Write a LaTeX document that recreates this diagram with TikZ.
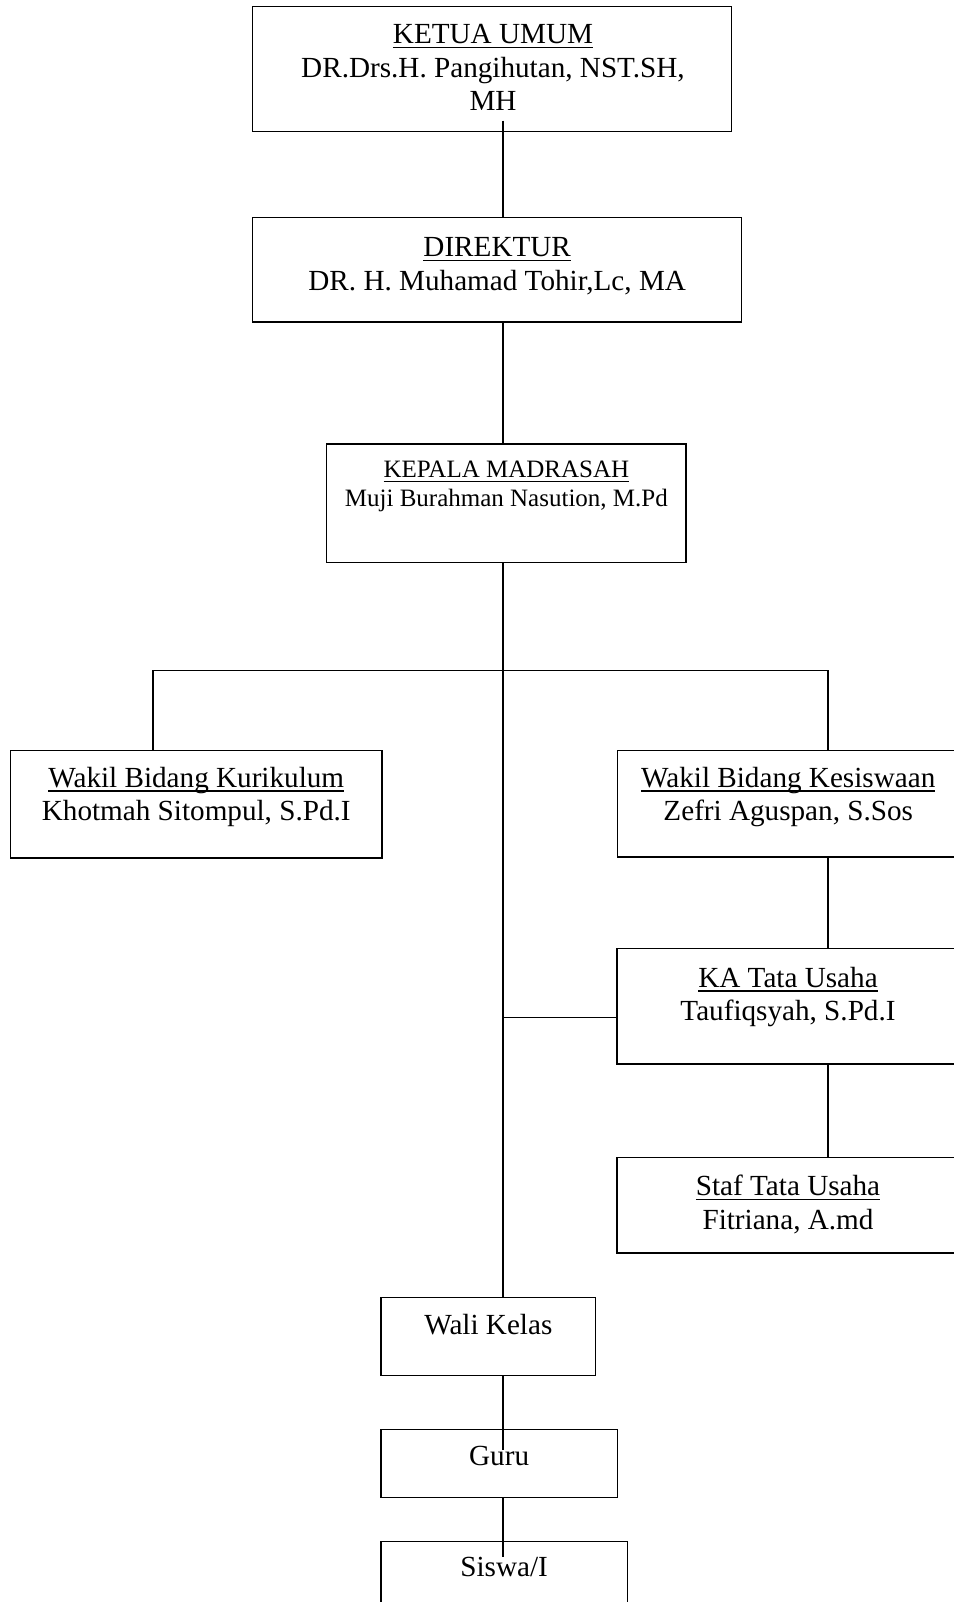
\documentclass[tikz,border=0pt]{standalone}
\usepackage{fontspec}
\setmainfont{Liberation Serif}
\newlength\ulwidth
\newcommand\myul[1]{\settowidth\ulwidth{#1}\rlap{\rule[-4.2pt]{\ulwidth}{1.3pt}}#1}
\newcommand\bigtxt{\fontsize{29.17}{33.5}\selectfont}
\newcommand\smalltxt{\fontsize{25}{28.6}\selectfont}
\tikzset{
  box/.style={draw, line width=1.4pt, anchor=north west, inner sep=0pt, outer sep=0pt},
  txt/.style={anchor=base, inner sep=0pt, font=\bigtxt},
  stxt/.style={anchor=base, inner sep=0pt, font=\smalltxt},
  conn/.style={draw, line width=1.3pt}
}
\newcommand\twolines[2]{\begin{tabular}[t]{@{}c@{}}#1\\#2\end{tabular}}
\begin{document}
\begin{tikzpicture}[x=1pt,y=-1pt]
\useasboundingbox (0,0) rectangle (953,1602);
% boxes
\node[box, minimum width=479pt, minimum height=124.8pt] (ketua) at (252.7,6.7) {};
\node[box, minimum width=489pt, minimum height=104.7pt] (direktur) at (252.7,217.3) {};
\node[box, minimum width=359.3pt, minimum height=118.3pt] (kepala) at (326.7,444) {};
\node[box, minimum width=371.1pt, minimum height=107.5pt] (kurikulum) at (10.7,750.5) {};
\node[box, minimum width=341.5pt, minimum height=106.5pt] (kesiswaan) at (617.5,750.5) {};
\node[box, minimum width=342pt, minimum height=115.7pt] (ka) at (617,948.3) {};
\node[box, minimum width=342pt, minimum height=95.3pt] (staf) at (617,1157.7) {};
\node[box, minimum width=214.7pt, minimum height=78.4pt] (wali) at (381,1297.3) {};
\node[box, minimum width=236.3pt, minimum height=68pt] (guru) at (381,1429.7) {};
\node[box, minimum width=246.3pt, minimum height=80pt] (siswa) at (381,1541.7) {};
% texts
\node[txt] (tketua) at ([yshift=-37.3pt,xshift=0.8pt]ketua.north) {\begin{tabular}[t]{@{}c@{}}\myul{KETUA UMUM}\\DR.Drs.H. Pangihutan, NST.SH,\\MH\end{tabular}};
\node[txt] (tdirektur) at ([yshift=-39.4pt]direktur.north) {\twolines{\myul{DIREKTUR}}{DR. H. Muhamad Tohir,Lc, MA}};
\node[stxt] (tkepala) at ([yshift=-33.7pt]kepala.north) {\twolines{\myul{KEPALA MADRASAH}}{Muji Burahman Nasution, M.Pd}};
\node[txt] (tkurikulum) at ([yshift=-36.8pt]kurikulum.north) {\twolines{\myul{Wakil Bidang Kurikulum}}{Khotmah Sitompul, S.Pd.I}};
\node[txt] (tkesiswaan) at ([yshift=-36.8pt]kesiswaan.north) {\twolines{\myul{Wakil Bidang Kesiswaan}}{Zefri Aguspan, S.Sos}};
\node[txt] (tka) at ([yshift=-39pt]ka.north) {\twolines{\myul{KA Tata Usaha}}{Taufiqsyah, S.Pd.I}};
\node[txt] (tstaf) at ([yshift=-38pt]staf.north) {\twolines{\myul{Staf Tata Usaha}}{Fitriana, A.md}};
\node[txt] (twali) at ([yshift=-37pt]wali.north) {Wali Kelas};
\node[txt] (tguru) at ([yshift=-36pt]guru.north) {Guru};
\node[txt] (tsiswa) at ([yshift=-35pt]siswa.north) {Siswa/I};
% connector coordinates
\coordinate (spine) at (503,0);
\coordinate (k1) at (503,120.7);
\coordinate (bl) at (153,670.5);
\coordinate (br) at (828,670.5);
\coordinate (kaj) at (503,1017.7);
\coordinate (gi) at (503,1450);
\coordinate (si) at (503,1557);
% connectors
\path[conn] (k1) -- (k1 |- direktur.north);
\path[conn] (spine |- direktur.south) -- (spine |- kepala.north);
\path[conn] (spine |- kepala.south) -- (spine |- wali.north);
\path[conn] (bl |- kurikulum.north) -- (bl) -- (br) -- (br |- kesiswaan.north);
\path[conn] (br |- kesiswaan.south) -- (br |- ka.north);
\path[conn] (br |- ka.south) -- (br |- staf.north);
\path[conn] (kaj) -- (kaj -| ka.west);
\path[conn] (spine |- wali.south) -- (gi);
\path[conn] (spine |- guru.south) -- (si);
\end{tikzpicture}
\end{document}
